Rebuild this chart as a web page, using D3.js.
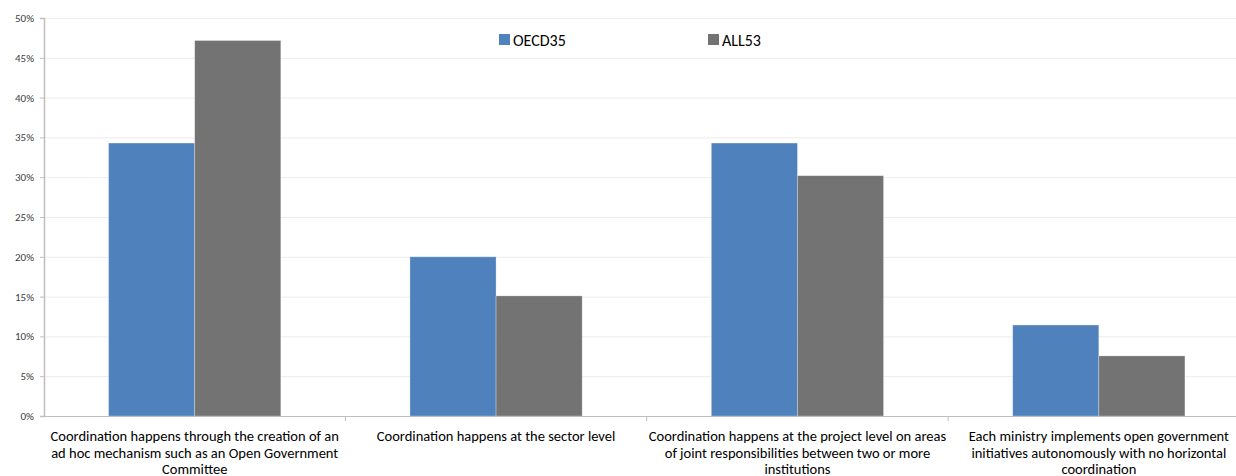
<!DOCTYPE html>
<html><head><meta charset="utf-8">
<script src="https://cdn.jsdelivr.net/npm/d3@7"></script>
<style>
html,body{margin:0;padding:0;background:#fff;}
svg{display:block;font-family:Carlito,Calibri,Lato,"Open Sans",sans-serif;}
</style></head>
<body><svg id="c" width="1236" height="476"></svg>
<script>
const categories = [
  ["Coordination happens through the creation of an","ad hoc mechanism such as an Open Government","Committee"],
  ["Coordination happens at the sector level"],
  ["Coordination happens at the project level on areas","of joint responsibilities between two or more","institutions"],
  ["Each ministry implements open government","initiatives autonomously with no horizontal","coordination"]
];
const seriesNames = ["OECD35","ALL53"];
const oecd35 = [0.3429, 0.2000, 0.3429, 0.1143];
const all53 = [0.4717, 0.1509, 0.3019, 0.0755];
const yTicks = [0,0.05,0.10,0.15,0.20,0.25,0.30,0.35,0.40,0.45,0.50];
const colors = ["#4f81bd","#737373"];

const svg = d3.select("#c");
const x0 = 44, x1 = 1249.5, yTop = 18, yBot = 416;
const x = d3.scaleBand().domain(d3.range(categories.length)).range([x0,x1]).paddingInner(0).paddingOuter(0);
const xs = d3.scaleBand().domain([0,1]).range([0, x.bandwidth()]).paddingInner(0).paddingOuter(0.75);
const y = d3.scaleLinear().domain([0,0.5]).range([yBot,yTop]);

// gridlines
svg.append("g").selectAll("line").data(yTicks.slice(1)).join("line")
  .attr("x1",x0).attr("x2",1236).attr("y1",d=>y(d)+0.5).attr("y2",d=>y(d)+0.5)
  .attr("stroke","#ececec").attr("stroke-width",1);

// bars
const data = [oecd35, all53];
const g = svg.append("g");
data.forEach((vals,si)=>{
  g.selectAll(".b"+si).data(vals).join("rect")
    .attr("x",(d,i)=>x(i)+xs(si))
    .attr("width",xs.bandwidth())
    .attr("y",d=>y(d))
    .attr("height",d=>yBot-y(d))
    .attr("fill",colors[si])
    .attr("stroke","rgba(255,255,255,0.35)").attr("stroke-width",0.8);
});

// y axis
const yAxis = d3.axisLeft(y).tickValues(yTicks).tickFormat(d3.format(".0%")).tickSize(4).tickPadding(6);
const ya = svg.append("g").attr("transform",`translate(${x0},0)`).call(yAxis);
ya.select(".domain").attr("stroke","#bfbfbf").attr("stroke-width",1.5);
ya.selectAll(".tick line").attr("stroke","#bfbfbf");
ya.selectAll("text").attr("font-size",11).attr("fill","#404040").attr("font-family","Carlito,Calibri,Lato,'Open Sans',sans-serif");

// x axis
const xa = svg.append("g").attr("transform",`translate(0,${yBot})`);
xa.append("line").attr("x1",x0).attr("x2",1236).attr("y1",0.5).attr("y2",0.5).attr("stroke","#bfbfbf").attr("stroke-width",1.2);
xa.selectAll(".tk").data(d3.range(1,categories.length)).join("line")
  .attr("x1",i=>x(i)).attr("x2",i=>x(i)).attr("y1",0).attr("y2",5).attr("stroke","#bfbfbf");
const lab = xa.selectAll(".lab").data(categories).join("text")
  .attr("text-anchor","middle").attr("font-size",14.5).attr("fill","#000")
  .attr("transform",(d,i)=>`translate(${x(i)+x.bandwidth()/2},0)`);
lab.each(function(lines){
  d3.select(this).selectAll("tspan").data(lines).join("tspan")
    .attr("x",0).attr("y",(d,j)=>25+j*16.5).text(d=>d);
});

// legend
const leg = svg.append("g");
const legX = [499, 708];
seriesNames.forEach((n,i)=>{
  leg.append("rect").attr("x",legX[i]).attr("y",34).attr("width",11).attr("height",11).attr("fill",colors[i]);
  leg.append("text").attr("x",legX[i]+14).attr("y",46).attr("font-size",16).attr("fill","#000").text(n);
});
</script></body></html>
